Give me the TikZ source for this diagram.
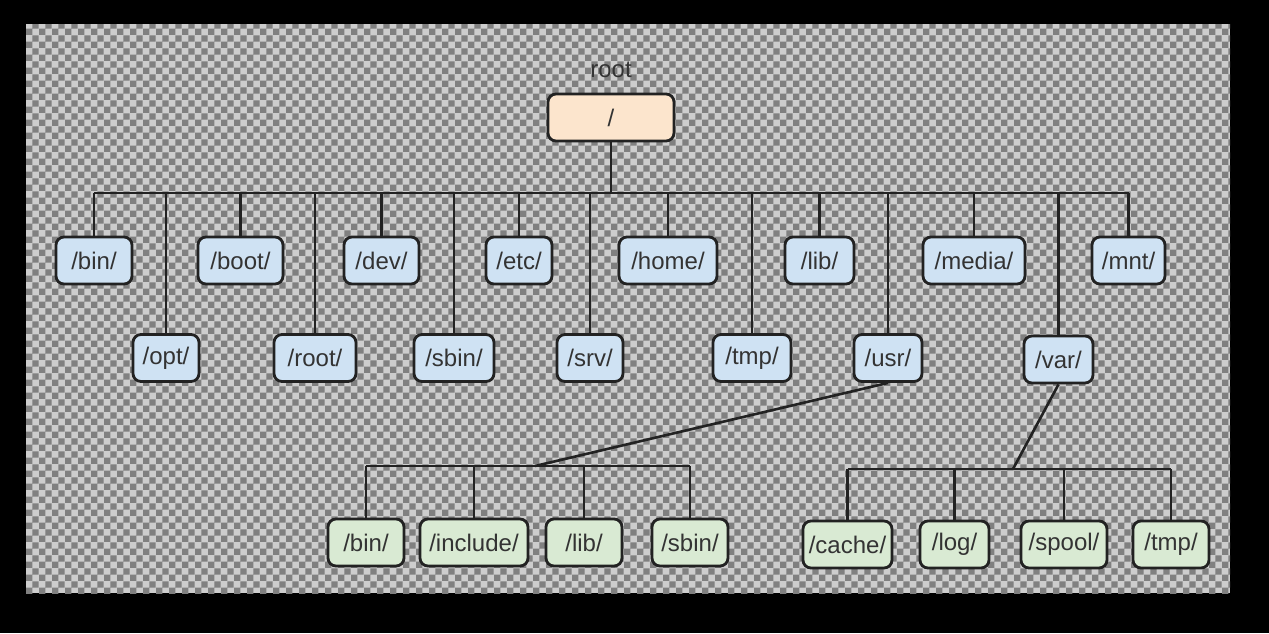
\documentclass[tikz,border=0pt]{standalone}
\usepackage{fontspec}
\setmainfont{Liberation Sans}
\usepackage{tikz}
\usetikzlibrary{calc}
\usetikzlibrary{patterns}
\definecolor{checkdark}{RGB}{128, 128, 128}
\definecolor{checklight}{RGB}{205, 205, 205}
\definecolor{dirblue}{RGB}{207, 226, 243}
\definecolor{dirgreen}{RGB}{217, 234, 211}
\definecolor{dirorange}{RGB}{252, 229, 205}
\definecolor{edgegray}{RGB}{34, 34, 34}
\definecolor{textgray}{RGB}{51, 51, 51}
\pgfdeclarepatternformonly{checker}{\pgfqpoint{0pt}{0pt}}{\pgfqpoint{6.67pt}{6.67pt}}{\pgfqpoint{6.67pt}{6.67pt}}{%
  \pgfpathrectangle{\pgfqpoint{0pt}{0pt}}{\pgfqpoint{3.335pt}{3.335pt}}%
  \pgfpathrectangle{\pgfqpoint{3.335pt}{3.335pt}}{\pgfqpoint{3.335pt}{3.335pt}}%
  \pgfusepath{fill}}
\tikzset{
  dir/.style={draw=edgegray, line width=1.4pt, rounded corners=4pt, minimum height=23.5pt,
    inner sep=0pt, text=textgray, font=\fontsize{12}{14}\selectfont},
  topdir/.style={dir, fill=dirblue},
  subdir/.style={dir, fill=dirgreen},
  link/.style={draw=edgegray, line width=1.3pt}
}
\begin{document}
\begin{tikzpicture}[x=0.5pt, y=-0.5pt]
  \useasboundingbox (0,0) rectangle (1269,633);
  % background
  \fill[black] (0,0) rectangle (1269,633);
  \fill[checklight] (26,24) rectangle (1230,593);
  \fill[pattern=checker, pattern color=checkdark] (26,24) rectangle (1230,593);

  % root
  \node[dir, fill=dirorange, minimum width=63pt] (slash) at (611,117.5) {/};
  \node[text=textgray, font=\fontsize{12}{14}\selectfont] (rootlabel) at (611,70) {root};

  % first level
  \node[topdir, minimum width=38pt]   (bin)   at (94,260.5)    {/bin/};
  \node[topdir, minimum width=42.5pt] (boot)  at (240.5,260.5) {/boot/};
  \node[topdir, minimum width=37.5pt] (dev)   at (381.5,260.5) {/dev/};
  \node[topdir, minimum width=33pt]   (etc)   at (519,260.5)   {/etc/};
  \node[topdir, minimum width=49pt]   (home)  at (668,260.5)   {/home/};
  \node[topdir, minimum width=34.5pt] (lib)   at (819.5,260.5) {/lib/};
  \node[topdir, minimum width=51pt]   (media) at (974,260.5)   {/media/};
  \node[topdir, minimum width=36.5pt] (mnt)   at (1128.5,260.5) {/mnt/};

  \node[topdir, minimum width=33pt]   (opt)   at (166,358)     {/opt/};
  \node[topdir, minimum width=41pt]   (rootd) at (315,358)     {/root/};
  \node[topdir, minimum width=40pt]   (sbin)  at (454,358)     {/sbin/};
  \node[topdir, minimum width=33pt]   (srv)   at (590,358)     {/srv/};
  \node[topdir, minimum width=39pt]   (tmp)   at (752,358)     {/tmp/};
  \node[topdir, minimum width=34pt]   (usr)   at (888,358)     {/usr/};
  \node[topdir, minimum width=34.5pt] (var)   at (1058.5,359.5) {/var/};

  % /usr/ children
  \node[subdir, minimum width=38pt]   (ubin)     at (366,542.5) {/bin/};
  \node[subdir, minimum width=54pt]   (uinclude) at (474,542.5) {/include/};
  \node[subdir, minimum width=38pt]   (ulib)     at (584,542.5) {/lib/};
  \node[subdir, minimum width=38pt]   (usbin)    at (690,542.5) {/sbin/};

  % /var/ children
  \node[subdir, minimum width=44.5pt] (vcache) at (847.5,544.5) {/cache/};
  \node[subdir, minimum width=34.5pt] (vlog)   at (954.5,544.5) {/log/};
  \node[subdir, minimum width=43pt]   (vspool) at (1064,544.5)  {/spool/};
  \node[subdir, minimum width=38pt]   (vtmp)   at (1171,544.5)  {/tmp/};

  % connectors
  \coordinate (bus) at (611,193);
  \coordinate (usrbus) at (535,466);
  \coordinate (varbus) at (1013,469);

  \draw[link] (slash.south) -- (bus);
  \draw[link] (bin.north |- bus) -- (mnt.north |- bus);
  \foreach \d in {bin,boot,dev,etc,home,lib,media,mnt,opt,rootd,sbin,srv,tmp,usr,var}
    \draw[link] (\d.north) -- (\d.north |- bus);

  \draw[link] (usr.south) -- (usrbus);
  \draw[link] (ubin.north |- usrbus) -- (usbin.north |- usrbus);
  \foreach \d in {ubin,uinclude,ulib,usbin}
    \draw[link] (\d.north) -- (\d.north |- usrbus);

  \draw[link] (var.south) -- (varbus);
  \draw[link] (vcache.north |- varbus) -- (vtmp.north |- varbus);
  \foreach \d in {vcache,vlog,vspool,vtmp}
    \draw[link] (\d.north) -- (\d.north |- varbus);
\end{tikzpicture}
\end{document}
